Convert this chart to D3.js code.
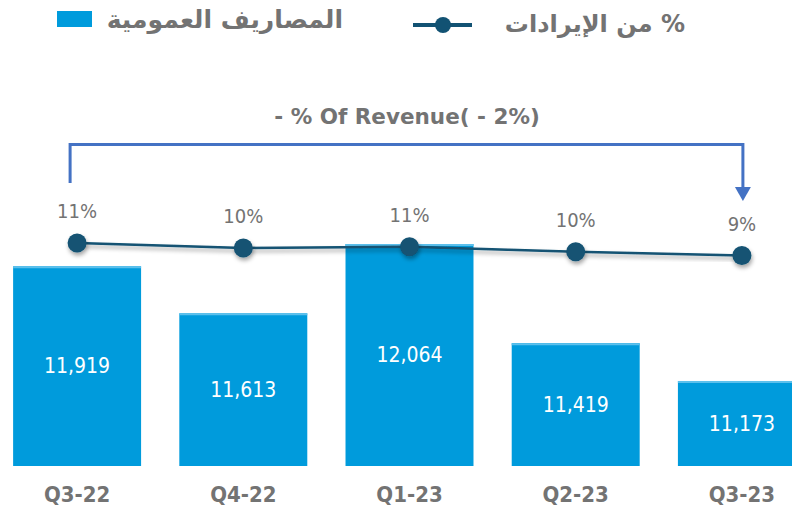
<!DOCTYPE html>
<html><head><meta charset="utf-8">
<script src="https://cdn.jsdelivr.net/npm/d3@7"></script>
<style>
html,body{margin:0;padding:0;background:#fff;}
svg{display:block;}
</style></head>
<body>
<svg id="chart" width="792" height="509"></svg>
<script>
const categories = ["Q3-22","Q4-22","Q1-23","Q2-23","Q3-23"];
const expenses = [11919, 11613, 12064, 11419, 11173];
const pctOfRevenue = [10.8, 10.4, 10.5, 10.1, 9.8];
const pctLabels = ["11%","10%","11%","10%","9%"];
const legendBars = "المصاريف العمومية";
const legendLine = "% من الإيرادات";
const titleText = "- % Of Revenue( - 2%)";

const svg = d3.select("#chart");
const barColor = "#009bdc";
const lineColor = "#125273";
const gray = "#737373";
const numFont = "'DejaVu Sans Condensed','Liberation Sans Narrow','DejaVu Sans',sans-serif";

const defs = svg.append("defs");
const f = defs.append("filter").attr("id","sh").attr("x","-50%").attr("y","-50%").attr("width","200%").attr("height","200%");
f.append("feDropShadow").attr("dx",1).attr("dy",3).attr("stdDeviation",2).attr("flood-color","#000").attr("flood-opacity",0.35);

const x = d3.scaleBand().domain(categories).range([-6, 825]).paddingInner(0.23).paddingOuter(0.115);
const y = d3.scaleLinear().domain([10620, 12064]).range([466, 244]);
const y2 = d3.scaleLinear().domain([9.8, 10.8]).range([255.5, 243]);

// bars
svg.append("g").selectAll("rect").data(expenses).join("rect")
  .attr("x",(d,i)=>x(categories[i]))
  .attr("y",d=>y(d))
  .attr("width",x.bandwidth())
  .attr("height",d=>y(10620)-y(d))
  .attr("fill",barColor);
svg.append("g").selectAll("line").data(expenses).join("line")
  .attr("x1",(d,i)=>x(categories[i])).attr("x2",(d,i)=>x(categories[i])+x.bandwidth())
  .attr("y1",d=>y(d)+1).attr("y2",d=>y(d)+1)
  .attr("stroke","#5cc0ec").attr("stroke-width",2);

// bar value labels
svg.append("g").selectAll("text").data(expenses).join("text")
  .attr("x",(d,i)=>x(categories[i])+x.bandwidth()/2)
  .attr("y",d=>(y(d)+y(10620))/2)
  .attr("dy","0.35em")
  .attr("text-anchor","middle")
  .attr("fill","#fff")
  .style("font-family",numFont).style("font-size","21px")
  .text(d=>d3.format(",")(d));

// category axis labels
const xAxis = d3.axisBottom(x).tickSize(0).tickPadding(0);
const gx = svg.append("g").attr("transform","translate(0,502)").call(xAxis);
gx.select(".domain").remove();
gx.selectAll("text").attr("fill",gray).attr("dy",0)
  .style("font-family","'DejaVu Sans Condensed','DejaVu Sans',sans-serif").style("font-weight","700").style("font-size","22px");

// line
const line = d3.line().x((d,i)=>x(categories[i])+x.bandwidth()/2).y(d=>y2(d));
svg.append("path").datum(pctOfRevenue).attr("d",line).attr("fill","none")
  .attr("stroke",lineColor).attr("stroke-width",2.5).attr("filter","url(#sh)");
svg.append("g").selectAll("circle").data(pctOfRevenue).join("circle")
  .attr("cx",(d,i)=>x(categories[i])+x.bandwidth()/2)
  .attr("cy",d=>y2(d)).attr("r",9.5)
  .attr("fill",lineColor).attr("filter","url(#sh)");
svg.append("g").selectAll("text").data(pctOfRevenue).join("text")
  .attr("x",(d,i)=>x(categories[i])+x.bandwidth()/2)
  .attr("y",d=>y2(d)-25)
  .attr("text-anchor","middle")
  .attr("fill",gray)
  .style("font-family",numFont).style("font-size","20px")
  .text((d,i)=>pctLabels[i]);

// bracket
const bx1 = x(categories[0])+x.bandwidth()/2 - 7;
const bx2 = x(categories[4])+x.bandwidth()/2 + 1;
const bracketColor = "#4472c4";
svg.append("path")
  .attr("d",`M${bx1},183 V144.5 H${bx2} V188`)
  .attr("fill","none").attr("stroke",bracketColor).attr("stroke-width",3);
svg.append("path")
  .attr("d",`M${bx2-8},187 L${bx2+8},187 L${bx2},201 Z`)
  .attr("fill",bracketColor);
svg.append("text").attr("x",407).attr("y",124).attr("text-anchor","middle")
  .attr("fill",gray)
  .style("font-family","'DejaVu Sans',sans-serif").style("font-weight","700").style("font-size","21.5px")
  .text(titleText);

// legend
const lg = svg.append("g");
lg.append("rect").attr("x",57).attr("y",11).attr("width",35).attr("height",16).attr("fill",barColor);
lg.append("text").attr("x",343).attr("y",28).attr("text-anchor","start").attr("direction","rtl")
  .attr("fill",gray).style("font-family","'DejaVu Sans',sans-serif").style("font-weight","700").style("font-size","25px")
  .text(legendBars);
lg.append("line").attr("x1",413).attr("x2",472).attr("y1",25).attr("y2",25).attr("stroke",lineColor).attr("stroke-width",4);
lg.append("circle").attr("cx",443).attr("cy",25).attr("r",8).attr("fill",lineColor);
lg.append("text").attr("x",685).attr("y",32).attr("text-anchor","start").attr("direction","rtl")
  .attr("fill",gray).style("font-family","'DejaVu Sans',sans-serif").style("font-weight","700").style("font-size","24px")
  .text(legendLine);
</script>
</body></html>
